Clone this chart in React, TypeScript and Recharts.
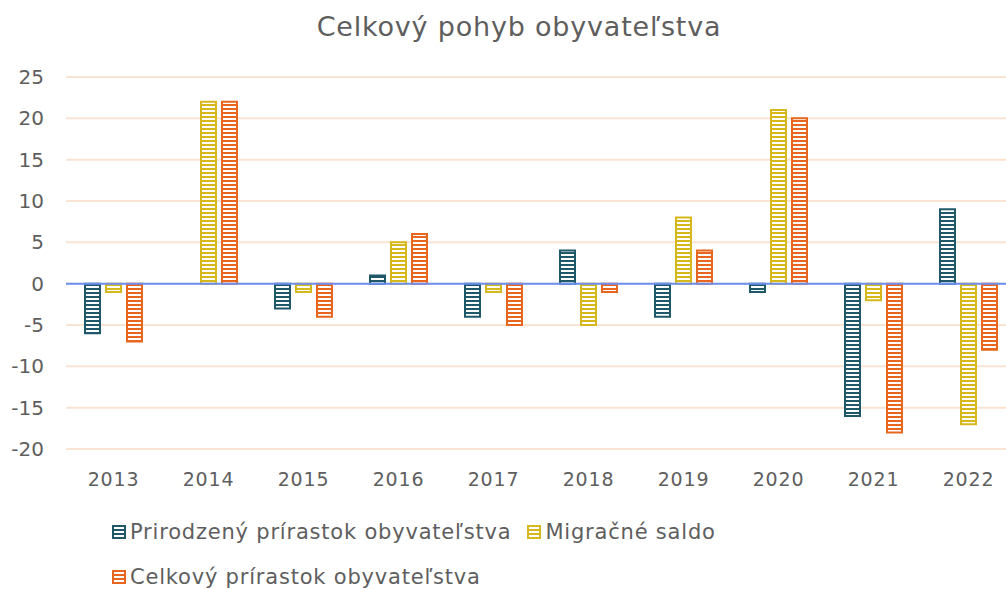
import React from 'react';
import { BarChart, Bar, XAxis, YAxis, CartesianGrid, ReferenceLine } from 'recharts';

const years = ['2013', '2014', '2015', '2016', '2017', '2018', '2019', '2020', '2021', '2022'];
const prirodzeny = [-6, 0, -3, 1, -4, 4, -4, -1, -16, 9];
const migracne = [-1, 22, -1, 5, -1, -5, 8, 21, -2, -17];
const celkovy = [-7, 22, -4, 6, -5, -1, 4, 20, -18, -8];
const yTicks = [-20, -15, -10, -5, 0, 5, 10, 15, 20, 25];

const SERIES = [
  { key: 'prirodzeny', name: 'Prirodzený prírastok obyvateľstva', color: '#1f5868' },
  { key: 'migracne', name: 'Migračné saldo', color: '#d6b71c' },
  { key: 'celkovy', name: 'Celkový prírastok obyvateľstva', color: '#e8661e' },
];

const data = years.map((year, i) => ({
  year,
  prirodzeny: prirodzeny[i],
  migracne: migracne[i],
  celkovy: celkovy[i],
}));

const FONT = '"DejaVu Sans", sans-serif';
const TEXT = '#5e5e5e';

const Stripes = ({ id, color }: { id: string; color: string }) => (
  <pattern id={id} width={4} height={4} patternUnits="userSpaceOnUse">
    <rect width={4} height={4} fill="#ffffff" />
    <rect y={0} width={4} height={2} fill={color} />
  </pattern>
);

const LegendBox = () => (
  <div
    style={{
      position: 'absolute',
      left: 112,
      top: 509,
      fontFamily: FONT,
      fontSize: 21,
      letterSpacing: 0.8,
      color: TEXT,
    }}
  >
    {[[SERIES[0], SERIES[1]], [SERIES[2]]].map((row, r) => (
      <div key={r} style={{ display: 'flex', alignItems: 'center', height: 45, whiteSpace: 'nowrap' }}>
        {row.map((s) => (
          <span key={s.key} style={{ display: 'inline-flex', alignItems: 'center', marginRight: 16 }}>
            <svg width={14} height={14} style={{ marginRight: 4 }}>
              <defs>
                <Stripes id={`lg-${s.key}`} color={s.color} />
              </defs>
              <rect x={1} y={1} width={12} height={12} fill={`url(#lg-${s.key})`} stroke={s.color} strokeWidth={2} />
            </svg>
            {s.name}
          </span>
        ))}
      </div>
    ))}
  </div>
);

export default function App() {
  return (
    <div style={{ position: 'absolute', left: 0, top: 0, width: 1006, height: 589, overflow: 'hidden', background: '#fff' }}>
      <div
        style={{
          position: 'absolute',
          top: 11,
          left: 0,
          width: 1006,
          textAlign: 'center',
          fontFamily: FONT,
          fontSize: 27,
          letterSpacing: 0.8,
          color: TEXT,
          paddingLeft: 32,
          boxSizing: 'border-box',
        }}
      >
        Celkový pohyb obyvateľstva
      </div>
      <BarChart
        width={1020}
        height={589}
        data={data}
        margin={{ top: 77, right: 4, bottom: 110, left: 0 }}
        barSize={15}
        barGap={6}
      >
        <defs>
          {SERIES.map((s) => (
            <Stripes key={s.key} id={`st-${s.key}`} color={s.color} />
          ))}
        </defs>
        <CartesianGrid vertical={false} stroke="#fbe3d4" strokeWidth={2} />
        <XAxis
          dataKey="year"
          axisLine={false}
          tickLine={false}
          height={30}
          tick={{ fill: TEXT, fontSize: 19, fontFamily: FONT, letterSpacing: 0.8, dy: 12 }}
          tickMargin={6}
        />
        <YAxis
          domain={[-20, 25]}
          ticks={yTicks}
          interval={0}
          axisLine={false}
          tickLine={false}
          width={66}
          tick={{ fill: TEXT, fontSize: 20, fontFamily: FONT, dx: -14 }}
        />
        {SERIES.map((s) => (
          <Bar
            key={s.key}
            dataKey={s.key}
            name={s.name}
            fill={`url(#st-${s.key})`}
            stroke={s.color}
            strokeWidth={2}
            isAnimationActive={false}
          />
        ))}
        <ReferenceLine y={0} stroke="#6d8ff0" strokeWidth={2} />
      </BarChart>
      <LegendBox />
    </div>
  );
}
